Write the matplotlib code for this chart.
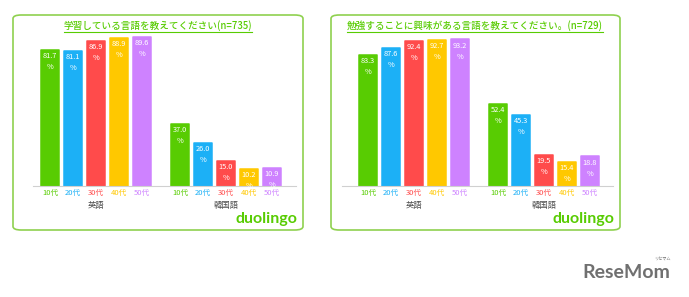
import numpy as np
import matplotlib
matplotlib.use("Agg")
import matplotlib.pyplot as plt
from matplotlib.patches import FancyBboxPatch
from matplotlib.lines import Line2D

plt.rcParams['font.family'] = ['Noto Sans CJK JP', 'DejaVu Sans']

ages = ['10代', '20代', '30代', '40代', '50代']
groups = ['英語', '韓国語']
colors = ['#58cc02', '#1cb0f6', '#ff4b4b', '#ffc800', '#ce82ff']

title_left = '学習している言語を教えてください(n=735)'
learning_en = [81.7, 81.1, 86.9, 88.9, 89.6]
learning_ko = [37.0, 26.0, 15.0, 10.2, 10.9]

title_right = '勉強することに興味がある言語を教えてください。(n=729)'
interest_en = [83.3, 87.6, 92.4, 92.7, 93.2]
interest_ko = [52.4, 45.3, 19.5, 15.4, 18.8]

W, H = 689, 297
fig = plt.figure(figsize=(W / 100, H / 100), dpi=100)
fig.patch.set_facecolor('white')

GREEN = '#58cc02'
BORDER = '#8fd14f'


def px(x, y):
    # pixel (from top-left) -> figure fraction
    return x / W, 1 - y / H


def panel(box, ax_x, scale, title_x, title, en, ko):
    bx0, by0, bx1, by1 = box
    x0, y0 = px(bx0, by1)
    fig.add_artist(FancyBboxPatch((x0, y0), (bx1 - bx0) / W, (by1 - by0) / H,
                                  boxstyle='round,pad=0,rounding_size=0.012',
                                  transform=fig.transFigure, fc='none',
                                  ec=BORDER, lw=1.2, zorder=-1))

    ax_left, ax_right = ax_x
    base, top = 186, 30
    ax = fig.add_axes([ax_left / W, 1 - base / H, (ax_right - ax_left) / W, (base - top) / H])
    step = 23.0
    first = bx0 + 27 + 10  # centre of first bar in px
    ax.set_xlim((ax_left - first) / step, (ax_right - first) / step)
    ax.set_ylim(0, (base - top) / scale)

    off = 130 / step
    pos_en = np.arange(5)
    pos_ko = np.arange(5) + off
    for pos, vals in [(pos_en, en), (pos_ko, ko)]:
        bars = ax.bar(pos, vals, width=18.4 / step, color=colors,
                      edgecolor=colors, linewidth=1.1)
        for b, v in zip(bars, vals):
            b.set_joinstyle('round')
            ax.annotate(f'{v:.1f}\n%', (b.get_x() + b.get_width() / 2, v),
                        xytext=(0, -1.5), textcoords='offset points',
                        ha='center', va='top', color='white', fontsize=5.3,
                        linespacing=1.5)

    ax.set_xticks(np.concatenate([pos_en, pos_ko]))
    ax.set_xticklabels(ages + ages, fontsize=5.5)
    for lab, c in zip(ax.get_xticklabels(), colors + colors):
        lab.set_color(c)
    ax.tick_params(axis='x', length=0, pad=2)
    ax.set_yticks([])
    for s in ['top', 'left', 'right']:
        ax.spines[s].set_visible(False)
    ax.spines['bottom'].set_color('#d0d0d0')
    ax.spines['bottom'].set_linewidth(0.8)
    ax.patch.set_alpha(0)

    for pos, g in [(pos_en, groups[0]), (pos_ko, groups[1])]:
        ax.annotate(g, (pos.mean(), 0), xycoords=('data', 'axes fraction'),
                    xytext=(0, -10.5), textcoords='offset points',
                    ha='center', va='top', fontsize=6, color='#4b4b4b')

    t = fig.text(*px(title_x, 26), title, ha='center', va='center',
                 fontsize=6.9, color=GREEN, fontweight='medium')
    fig.canvas.draw()
    bb = t.get_window_extent()
    uy = (bb.y0 - 0.5) / (H)
    fig.add_artist(Line2D([bb.x0 / W, bb.x1 / W], [uy, uy],
                          transform=fig.transFigure, color=GREEN, lw=0.8))

    fig.text(*px(bx1 - 6, 219), 'duolingo', ha='right', va='center',
             fontsize=11.5, color=GREEN, fontweight='bold', family='Lato')


panel((13, 15, 303, 230), (33, 296), 1.667, 158, title_left, learning_en, learning_ko)
panel((331, 15, 620, 230), (342, 613), 1.572, 475, title_right, interest_en, interest_ko)

fig.text(*px(626, 272), 'ReseMom', ha='center', va='center', fontsize=14,
         color='#707070', fontweight='bold', family='Lato')
fig.text(*px(662, 259), 'リセマム', ha='center', va='center', fontsize=3,
         color='#707070')

fig.savefig('out.png', dpi=100, facecolor='white')
